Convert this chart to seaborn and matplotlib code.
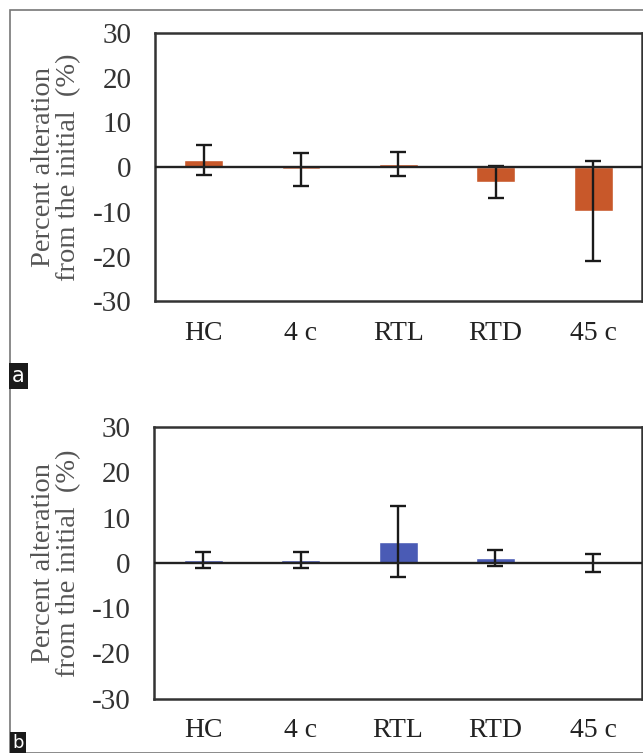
import pandas as pd
import seaborn as sns
import matplotlib.pyplot as plt
from matplotlib.patches import Rectangle

groups = ["HC", "4 c", "RTL", "RTD", "45 c"]
mean_a = [1.6, -0.5, 0.7, -3.4, -9.8]
err_a = [3.4, 3.7, 2.7, 3.6, 11.1]
mean_b = [0.6, 0.7, 4.7, 1.1, -0.05]
err_b = [1.8, 1.8, 7.9, 1.8, 2.0]
yticks = [-30, -20, -10, 0, 10, 20, 30]
ylab = "Percent alteration\nfrom the initial  (%)"

sns.set_style("white")
plt.rcParams['font.family'] = ['Liberation Serif', 'DejaVu Serif']
plt.rcParams['axes.unicode_minus'] = False

fig = plt.figure(figsize=(6.43, 7.53), dpi=100)
ax_a = fig.add_axes([0.241, 0.600, 0.757, 0.356])
ax_b = fig.add_axes([0.240, 0.072, 0.758, 0.361])


def draw(ax, means, errs, color):
    df = pd.DataFrame({"group": groups, "value": means})
    sns.barplot(data=df, x="group", y="value", color=color, width=0.4,
                errorbar=None, saturation=1, ax=ax)
    ax.errorbar(range(len(groups)), means, yerr=errs, fmt="none",
                ecolor="#1a1a1a", elinewidth=1.7, capsize=6, capthick=1.7)
    ax.axhline(0, color="#222222", lw=1.7, zorder=3)
    ax.set_ylim(-30, 30)
    ax.set_xlim(-0.5, len(groups) - 0.5)
    ax.set_yticks(yticks)
    ax.tick_params(axis="y", direction="out", length=7, width=1.5,
                   colors="#333333", labelsize=21, pad=10)
    ax.tick_params(axis="x", length=0, labelsize=20, labelcolor="#222222", pad=14)
    ax.set_xlabel("")
    ax.set_ylabel(ylab, fontsize=20.5, color="#555555", linespacing=1.0, labelpad=8)
    for s in ax.spines.values():
        s.set_color("#333333")
        s.set_linewidth(1.8)


draw(ax_a, mean_a, err_a, "#c8582a")
draw(ax_b, mean_b, err_b, "#4a5bb5")

# outer frame and panel letters
fig.patches.append(Rectangle((10 / 643, 0), 1, 1 - 10 / 753, transform=fig.transFigure,
                             fill=False, edgecolor="#777777", lw=1.2))
fig.text(12 / 643, 1 - 376 / 753, "a", color="white", fontsize=15, family="DejaVu Sans",
         va="center", ha="left",
         bbox=dict(boxstyle="square,pad=0.15", fc="#1a1a1a", ec="none"))
fig.text(12 / 643, 1 - 743 / 753, "b", color="white", fontsize=13, family="DejaVu Sans",
         va="center", ha="left",
         bbox=dict(boxstyle="square,pad=0.12", fc="#1a1a1a", ec="none"))

fig.savefig("out.png", dpi=100)
